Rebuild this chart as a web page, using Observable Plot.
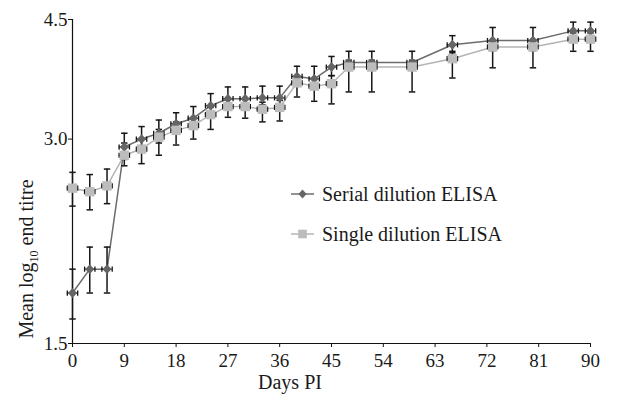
<!DOCTYPE html>
<html><head><meta charset="utf-8">
<script src="https://cdn.jsdelivr.net/npm/d3@7"></script>
<script src="https://cdn.jsdelivr.net/npm/@observablehq/plot@0.6"></script>
<style>body{margin:0;background:#fff} #chart{width:618px;height:400px}</style>
</head><body><div id="chart"></div>
<script>
// ---- data ----
const days = [0,3,6,9,12,15,18,21,24,27,30,33,36,39,42,45,48,52,59,66,73,80,87,90];
const serial   = [1.78,1.93,1.93,2.92,3.00,3.06,3.16,3.22,3.36,3.44,3.44,3.45,3.45,3.71,3.68,3.83,3.89,3.89,3.89,4.13,4.19,4.19,4.33,4.33];
const serialHi = [1.93,2.08,2.08,3.06,3.13,3.20,3.28,3.35,3.50,3.58,3.58,3.59,3.59,3.84,3.84,3.97,4.04,4.04,4.04,4.26,4.38,4.38,4.46,4.46];
const serialLo = [1.63,1.78,1.78,2.80,2.90,2.96,3.06,3.12,3.26,3.36,3.36,3.37,3.37,3.62,3.58,3.72,3.80,3.80,3.80,4.02,4.05,4.05,4.22,4.22];
const single   = [2.54,2.51,2.56,2.84,2.90,3.02,3.09,3.14,3.26,3.35,3.35,3.32,3.34,3.63,3.59,3.62,3.83,3.83,3.83,3.94,4.10,4.10,4.21,4.21];
const singleHi = [2.68,2.66,2.71,2.96,3.00,3.10,3.18,3.22,3.34,3.43,3.43,3.40,3.42,3.72,3.68,3.72,3.92,3.92,3.92,4.04,4.18,4.18,4.30,4.30];
const singleLo = [2.39,2.36,2.41,2.74,2.76,2.84,2.94,3.00,3.10,3.23,3.22,3.18,3.19,3.46,3.41,3.38,3.52,3.52,3.52,3.69,3.82,3.82,4.04,4.04];
const xErr = 0.9; // horizontal error (days)
const xTicks = [0,9,18,27,36,45,54,63,72,81,90];
const yTicks = [1.5,3.0,4.5];
const seriesNames = ["Serial dilution ELISA","Single dilution ELISA"];
const xLabel = "Days PI";

// ---- styles ----
const FONT = "'Liberation Serif', 'DejaVu Serif', serif";
const FS = 19, LFS = 20;
const colSerialLine = "#6c6c6c", colSerialDot = "#656565";
const colSingleLine = "#b4b4b4", colSingleDot = "#bcbcbc";
const colErr = "#161616";

function rows(name, vals, lo, hi){ return days.map((d,i)=>({series:name, day:d, v:vals[i], lo:lo[i], hi:hi[i]})); }
const serialRows = rows(seriesNames[0], serial, serialLo, serialHi);
const singleRows = rows(seriesNames[1], single, singleLo, singleHi);
const all = serialRows.concat(singleRows);

const rad = s => Math.sqrt(s/Math.PI);
const capH = {draw(c,s){const r=rad(s); c.moveTo(-r,0); c.lineTo(r,0);}};
const capV = {draw(c,s){const r=rad(s); c.moveTo(0,-r); c.lineTo(0,r);}};
const rhomb = {draw(c,s){const r=rad(s); c.moveTo(0,-r*1.1); c.lineTo(r,0); c.lineTo(0,r*1.1); c.lineTo(-r,0); c.closePath();}};
const sq = {draw(c,s){const r=rad(s); c.rect(-r,-r,2*r,2*r);}};

const plot = Plot.plot({
  width: 618, height: 400,
  marginLeft: 72, marginRight: 28, marginTop: 19, marginBottom: 57,
  style: {fontFamily: FONT, fontSize: FS+"px", color: "#1a1a1a", background: "#fff"},
  x: {domain: [0,90]},
  y: {type: "log", domain: [1.5,4.5]},
  marks: [
    Plot.ruleY([1.5], {stroke: "#111", strokeWidth: 1.2}),
    Plot.ruleX([0], {stroke: "#111", strokeWidth: 1.2}),
    Plot.axisX({ticks: xTicks, tickSize: 4, tickPadding: 6, label: null, stroke: "#111"}),
    Plot.axisY({ticks: yTicks, tickFormat: d3.format(".1f"), tickSize: 4, tickPadding: 1, label: null, stroke: "#111"}),
    Plot.line(serialRows, {x: "day", y: "v", stroke: colSerialLine, strokeWidth: 1.5}),
    Plot.line(singleRows, {x: "day", y: "v", stroke: colSingleLine, strokeWidth: 1.5}),
    Plot.ruleX(all, {x: "day", y1: "lo", y2: "hi", stroke: colErr, strokeWidth: 1.5}),
    Plot.dot(all, {x: "day", y: "lo", symbol: capH, r: 3.2, fill: "none", stroke: colErr, strokeWidth: 1.5}),
    Plot.dot(all, {x: "day", y: "hi", symbol: capH, r: 3.2, fill: "none", stroke: colErr, strokeWidth: 1.5}),
    Plot.ruleY(all, {y: "v", x1: d => d.day - xErr, x2: d => d.day + xErr, stroke: colErr, strokeWidth: 1.2}),
    Plot.dot(all, {x: d => d.day - xErr, y: "v", symbol: capV, r: 2.6, fill: "none", stroke: colErr, strokeWidth: 1.3}),
    Plot.dot(all, {x: d => d.day + xErr, y: "v", symbol: capV, r: 2.6, fill: "none", stroke: colErr, strokeWidth: 1.3}),
    Plot.dot(serialRows, {x: "day", y: "v", symbol: rhomb, r: 4.5, fill: colSerialDot, stroke: "none"}),
    Plot.dot(singleRows, {x: "day", y: "v", symbol: sq, r: 4.7, fill: colSingleDot, stroke: "none"})
  ]
});
document.getElementById("chart").appendChild(plot);

const svg = d3.select(plot);
// x label
svg.append("text").attr("x", 290).attr("y", 389).attr("text-anchor", "middle")
  .attr("font-family", FONT).attr("font-size", LFS).attr("fill", "#1a1a1a").text(xLabel);
// y label with subscript
const yl = svg.append("text").attr("transform", "translate(33,259) rotate(-90)").attr("text-anchor", "middle")
  .attr("font-family", FONT).attr("font-size", LFS).attr("fill", "#1a1a1a");
yl.append("tspan").text("Mean log");
yl.append("tspan").attr("dy", 5).attr("font-size", 12).text("10");
yl.append("tspan").attr("dy", -5).text(" end titre");
// legend
const leg = [
  {name: seriesNames[0], line: colSerialLine, dot: colSerialDot, sym: rhomb, r: 4, y: 194},
  {name: seriesNames[1], line: colSingleLine, dot: colSingleDot, sym: sq, r: 4.3, y: 234}
];
const lg = svg.append("g");
leg.forEach(l => {
  lg.append("line").attr("x1", 291).attr("x2", 314).attr("y1", l.y).attr("y2", l.y)
    .attr("stroke", l.line).attr("stroke-width", 1.5);
  lg.append("path").attr("transform", `translate(302.5,${l.y})`)
    .attr("d", d3.symbol(l.sym, Math.PI*l.r*l.r)()).attr("fill", l.dot);
  lg.append("text").attr("x", 322).attr("y", l.y + 7).attr("text-anchor", "start")
    .attr("font-family", FONT).attr("font-size", LFS).attr("fill", "#1a1a1a").text(l.name);
});
</script></body></html>
